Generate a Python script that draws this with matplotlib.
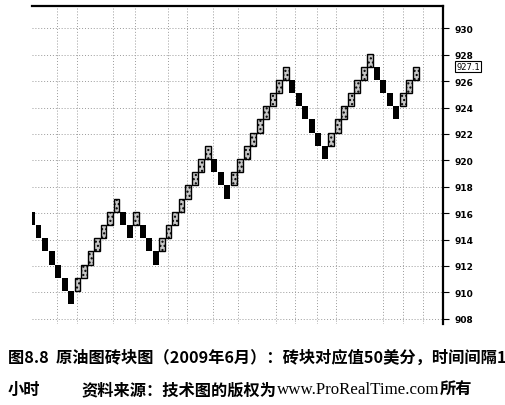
import matplotlib
matplotlib.use("Agg")
import matplotlib.pyplot as plt

plt.rcParams['font.family'] = ['Noto Sans CJK SC', 'DejaVu Sans']
plt.rcParams['hatch.linewidth'] = 1.0

# bottom of each renko brick (brick size 1.0 on the chart scale)
brick_bottoms = [915.1, 914.1, 913.1, 912.1, 911.1, 910.1, 909.1,
                 910.1, 911.1, 912.1, 913.1, 914.1, 915.1, 916.1,
                 915.1, 914.1, 915.1, 914.1, 913.1, 912.1,
                 913.1, 914.1, 915.1, 916.1, 917.1, 918.1, 919.1, 920.1,
                 919.1, 918.1, 917.1,
                 918.1, 919.1, 920.1, 921.1, 922.1, 923.1, 924.1, 925.1, 926.1,
                 925.1, 924.1, 923.1, 922.1, 921.1, 920.1,
                 921.1, 922.1, 923.1, 924.1, 925.1, 926.1, 927.1,
                 926.1, 925.1, 924.1, 923.1,
                 924.1, 925.1, 926.1]
last_price = 927.1
y_ticks = list(range(908, 931, 2))
# time separators (in brick units)
time_lines = [3.9, 6.9, 12.4, 15.8, 20.9, 23.9, 27.9, 31.7, 37.5, 40.4,
              43.9, 46.8, 54.0, 57.1, 60.2]

caption1 = "图8.8  原油图砖块图（2009年6月）：砖块对应值50美分，时间间隔1"
caption2a = "小时"
caption2b = "资料来源：技术图的版权为"
caption2c = "www.ProRealTime.com"
caption2d = "所有"

W, H = 506, 406
fig = plt.figure(figsize=(W / 100, H / 100), dpi=100)
ax = fig.add_axes([32 / W, 1 - 325 / H, (443 - 32) / W, (325 - 7) / H])

# bricks
for i, b in enumerate(brick_bottoms):
    up = i > 0 and b > brick_bottoms[i - 1]
    if up:
        ax.bar(i, 1.0, bottom=b, width=0.9, facecolor='#c8c8c8',
               edgecolor='black', linewidth=1.0, hatch='....', zorder=3)
    else:
        ax.bar(i, 1.0, bottom=b, width=0.92, color='black',
               linewidth=0, zorder=3)

for t in y_ticks:
    ax.axhline(t, color='#9a9a9a', linestyle=(0, (1, 2)), linewidth=0.7, zorder=1)
for x in time_lines:
    ax.axvline(x, color='#9a9a9a', linestyle=(0, (1, 2)), linewidth=0.7, zorder=1)

ax.set_xlim(0, 63.2)
ax.set_ylim(907.6, 931.7)

ax.spines['left'].set_visible(False)
ax.spines['bottom'].set_visible(False)
ax.spines['top'].set_linewidth(1.6)
ax.spines['right'].set_linewidth(1.6)

ax.set_xticks([])
ax.yaxis.tick_right()
ax.set_yticks(y_ticks)
ax.tick_params(axis='y', direction='out', length=4, width=0.8, pad=4,
               labelsize=6.5, colors='black')
for lab in ax.get_yticklabels():
    lab.set_fontfamily('DejaVu Sans')
    lab.set_fontweight('bold')

ax.annotate(f"{last_price:.1f}", xy=(1.0, last_price), xycoords=('axes fraction', 'data'),
            xytext=(9.5, 0), textcoords='offset points', va='center', ha='left',
            fontsize=6, family='DejaVu Sans',
            bbox=dict(boxstyle='square,pad=0.12', facecolor='white',
                      edgecolor='black', linewidth=0.8))

# caption
fs = 11.7
fig.text(8 / W, 1 - 358 / H, caption1, fontsize=fs, va='center', ha='left',
         fontweight='bold')
fig.text(8 / W, 1 - 390 / H, caption2a, fontsize=fs, va='center', ha='left',
         fontweight='bold')
tb = fig.text(82 / W, 1 - 390 / H, caption2b, fontsize=fs, va='center', ha='left',
              fontweight='bold')
r = fig.canvas.get_renderer()
x1 = tb.get_window_extent(r).x1
tc = fig.text(x1 / W, 1 - 390 / H, caption2c, fontsize=fs + 0.5, va='center',
              ha='left', family='Liberation Serif')
x2 = tc.get_window_extent(r).x1
fig.text(x2 / W, 1 - 390 / H, caption2d, fontsize=fs, va='center', ha='left',
         fontweight='bold')

fig.savefig('out.png', dpi=100)
